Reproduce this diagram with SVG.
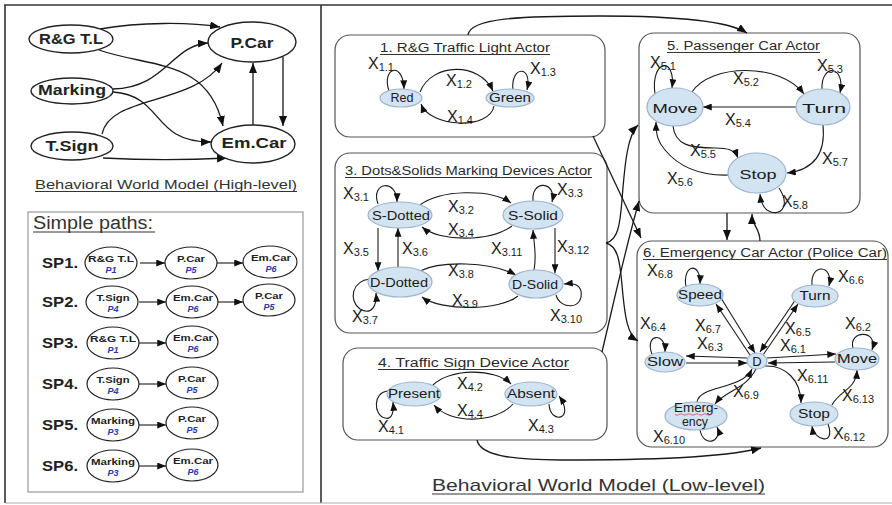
<svg xmlns="http://www.w3.org/2000/svg" width="892" height="505" viewBox="0 0 892 505">
<defs>
<style>
.frame{stroke:#333;stroke-width:1.6;fill:none}
.hn{fill:#fff;stroke:#222;stroke-width:1.4}
.ht{font-family:"Liberation Sans",Arial,sans-serif;font-weight:bold;font-size:14px;fill:#222;text-anchor:middle}
.sn{fill:#fff;stroke:#222;stroke-width:1.2}
.st{font-family:"Liberation Sans",Arial,sans-serif;font-weight:bold;font-size:9px;fill:#222;text-anchor:middle}
.sp{font-family:"Liberation Sans",Arial,sans-serif;font-weight:bold;font-style:italic;font-size:9px;fill:#2a3aa8;text-anchor:middle}
.spl{font-family:"Liberation Sans",Arial,sans-serif;font-weight:bold;font-size:15px;fill:#222}
.box{fill:#fff;stroke:#555;stroke-width:1.2}
.ttl{font-family:"Liberation Sans",Arial,sans-serif;font-size:12.5px;fill:#2a2a2a}
.ul{stroke:#333;stroke-width:1}
.ln{fill:#d2e3f2;stroke:#9db5cc;stroke-width:1.2}
.lt{font-family:"Liberation Sans",Arial,sans-serif;font-size:13px;fill:#1a1a1a;text-anchor:middle}
.e{fill:none;stroke:#1a1a1a;stroke-width:1.3;marker-end:url(#a)}
.es{fill:none;stroke:#1a1a1a;stroke-width:1.1;marker-end:url(#s)}
.x{font-family:"Liberation Sans",Arial,sans-serif;font-size:16px;fill:#1a1a1a}
.x tspan{font-size:11px}
.cap{font-family:"Liberation Sans",Arial,sans-serif;fill:#333}
</style>
<marker id="a" viewBox="0 0 10 8" refX="10" refY="4" markerWidth="10" markerHeight="8" orient="auto" markerUnits="userSpaceOnUse"><path d="M0,0L10,4L0,8z" fill="#111"/></marker>
<marker id="s" viewBox="0 0 10 8" refX="10" refY="4" markerWidth="9" markerHeight="7" orient="auto" markerUnits="userSpaceOnUse"><path d="M0,0L10,4L0,8z" fill="#111"/></marker>
</defs>

<g id="frame">
<line class="frame" x1="4" y1="5" x2="892" y2="5"/>
<line class="frame" x1="5" y1="5" x2="5" y2="503"/>
<line class="frame" x1="321" y1="5" x2="321" y2="503"/>
<line x1="5" y1="503" x2="892" y2="503" stroke="#aaa" stroke-width="1"/>
</g>

<!-- High-level model -->
<g id="hl-edges">
<path class="e" d="M100,29 C140,22 190,22 220,27"/>
<path class="e" d="M99,50 C150,68 208,58 223,126"/>
<path class="e" d="M113,89 C165,88 172,45 208,43"/>
<path class="e" d="M113,92 C165,96 150,142 211,142"/>
<path class="e" d="M102,134 C110,95 192,106 222,63"/>
<path class="e" d="M103,158 C140,160 190,160 227,158"/>
<path class="e" d="M253,125 L253,63"/>
<path class="e" d="M283,57 L283,126"/>
</g>
<g id="hl-rg"><ellipse class="hn" cx="71" cy="39" rx="42" ry="14"/><text class="ht" x="71" y="44" textLength="64" lengthAdjust="spacingAndGlyphs">R&amp;G T.L</text></g>
<g id="hl-marking"><ellipse class="hn" cx="72" cy="91" rx="41" ry="13"/><text class="ht" x="72" y="95" textLength="68" lengthAdjust="spacingAndGlyphs">Marking</text></g>
<g id="hl-tsign"><ellipse class="hn" cx="72" cy="146" rx="41" ry="14"/><text class="ht" x="72" y="151" textLength="53" lengthAdjust="spacingAndGlyphs">T.Sign</text></g>
<g id="hl-pcar"><ellipse class="hn" cx="252" cy="42" rx="44" ry="20"/><text class="ht" x="252" y="48" textLength="43" lengthAdjust="spacingAndGlyphs">P.Car</text></g>
<g id="hl-emcar"><ellipse class="hn" cx="253" cy="144" rx="42" ry="19"/><text class="ht" x="254" y="148" textLength="65" lengthAdjust="spacingAndGlyphs">Em.Car</text></g>
<text class="cap" x="35" y="189" font-size="13" textLength="262" lengthAdjust="spacingAndGlyphs">Behavioral World Model (High-level)</text>
<line class="ul" x1="35" y1="191.5" x2="297" y2="191.5"/>

<!-- Simple paths -->
<g id="simple-paths">
<rect x="28" y="212" width="275" height="280" fill="none" stroke="#999" stroke-width="1.2"/>
<text class="cap" x="33" y="229" font-size="18" fill="#1a1a1a" textLength="120" lengthAdjust="spacingAndGlyphs">Simple paths:</text>
<line class="ul" x1="33" y1="232" x2="155" y2="232" stroke="#222"/>
</g>
<g id="sp-edges">
<path class="es" d="M140,263 L165,263"/><path class="es" d="M217,263 L243,263"/>
<path class="es" d="M139,302 L166,302"/><path class="es" d="M218,302 L243,302"/>
<path class="es" d="M139,343 L166,343"/>
<path class="es" d="M139,384 L166,384"/>
<path class="es" d="M139,425 L166,425"/>
<path class="es" d="M139,466 L166,466"/>
</g>
<g id="sp1">
<text class="spl" x="42" y="268" textLength="36" lengthAdjust="spacingAndGlyphs">SP1.</text>
<ellipse class="sn" cx="111" cy="263" rx="26" ry="16"/><text class="st" x="111" y="262" textLength="46" lengthAdjust="spacingAndGlyphs">R&amp;G T.L</text><text class="sp" x="111" y="273">P1</text>
<ellipse class="sn" cx="191" cy="263" rx="26" ry="16"/><text class="st" x="191" y="262" textLength="28" lengthAdjust="spacingAndGlyphs">P.Car</text><text class="sp" x="191" y="273">P5</text>
<ellipse class="sn" cx="270" cy="262" rx="27" ry="16"/><text class="st" x="271" y="261" textLength="40" lengthAdjust="spacingAndGlyphs">Em.Car</text><text class="sp" x="271" y="272">P6</text>
</g>
<g id="sp2">
<text class="spl" x="42" y="307" textLength="36" lengthAdjust="spacingAndGlyphs">SP2.</text>
<ellipse class="sn" cx="112" cy="302" rx="26" ry="16"/><text class="st" x="113" y="301" textLength="33" lengthAdjust="spacingAndGlyphs">T.Sign</text><text class="sp" x="113" y="312">P4</text>
<ellipse class="sn" cx="192" cy="302" rx="26" ry="16"/><text class="st" x="193" y="301" textLength="40" lengthAdjust="spacingAndGlyphs">Em.Car</text><text class="sp" x="193" y="312">P6</text>
<ellipse class="sn" cx="269" cy="300" rx="26" ry="16"/><text class="st" x="269" y="299" textLength="28" lengthAdjust="spacingAndGlyphs">P.Car</text><text class="sp" x="269" y="310">P5</text>
</g>
<g id="sp3">
<text class="spl" x="42" y="348" textLength="36" lengthAdjust="spacingAndGlyphs">SP3.</text>
<ellipse class="sn" cx="113" cy="343" rx="26" ry="16"/><text class="st" x="113" y="342" textLength="46" lengthAdjust="spacingAndGlyphs">R&amp;G T.L</text><text class="sp" x="113" y="353">P1</text>
<ellipse class="sn" cx="192" cy="342" rx="26" ry="16"/><text class="st" x="193" y="341" textLength="40" lengthAdjust="spacingAndGlyphs">Em.Car</text><text class="sp" x="193" y="352">P6</text>
</g>
<g id="sp4">
<text class="spl" x="42" y="389" textLength="36" lengthAdjust="spacingAndGlyphs">SP4.</text>
<ellipse class="sn" cx="113" cy="384" rx="26" ry="16"/><text class="st" x="113" y="383" textLength="33" lengthAdjust="spacingAndGlyphs">T.Sign</text><text class="sp" x="113" y="394">P4</text>
<ellipse class="sn" cx="192" cy="383" rx="26" ry="16"/><text class="st" x="192" y="382" textLength="28" lengthAdjust="spacingAndGlyphs">P.Car</text><text class="sp" x="192" y="393">P5</text>
</g>
<g id="sp5">
<text class="spl" x="42" y="430" textLength="36" lengthAdjust="spacingAndGlyphs">SP5.</text>
<ellipse class="sn" cx="113" cy="425" rx="26" ry="16"/><text class="st" x="113" y="424" textLength="44" lengthAdjust="spacingAndGlyphs">Marking</text><text class="sp" x="113" y="435">P3</text>
<ellipse class="sn" cx="192" cy="423" rx="26" ry="16"/><text class="st" x="192" y="422" textLength="28" lengthAdjust="spacingAndGlyphs">P.Car</text><text class="sp" x="192" y="433">P5</text>
</g>
<g id="sp6">
<text class="spl" x="42" y="471" textLength="36" lengthAdjust="spacingAndGlyphs">SP6.</text>
<ellipse class="sn" cx="113" cy="466" rx="26" ry="16"/><text class="st" x="113" y="465" textLength="44" lengthAdjust="spacingAndGlyphs">Marking</text><text class="sp" x="113" y="476">P3</text>
<ellipse class="sn" cx="192" cy="465" rx="26" ry="16"/><text class="st" x="193" y="464" textLength="40" lengthAdjust="spacingAndGlyphs">Em.Car</text><text class="sp" x="193" y="475">P6</text>
</g>

<!-- Low-level model: boxes -->
<g id="box1">
<rect class="box" x="335" y="35" width="270" height="102" rx="15"/>
<text class="ttl" x="380" y="52" textLength="170" lengthAdjust="spacingAndGlyphs">1. R&amp;G Traffic Light Actor</text>
<line class="ul" x1="380" y1="54.5" x2="550" y2="54.5"/>
</g>
<g id="box3">
<rect class="box" x="335" y="153" width="272" height="180" rx="15"/>
<text class="ttl" x="345" y="175" textLength="247" lengthAdjust="spacingAndGlyphs">3. Dots&amp;Solids Marking Devices Actor</text>
<line class="ul" x1="345" y1="177.5" x2="592" y2="177.5"/>
</g>
<g id="box4">
<rect class="box" x="343" y="348" width="264" height="92" rx="15"/>
<text class="ttl" x="378" y="367" textLength="191" lengthAdjust="spacingAndGlyphs">4. Traffic Sign Device Actor</text>
<line class="ul" x1="378" y1="369.5" x2="569" y2="369.5"/>
</g>
<g id="box5">
<rect class="box" x="639" y="33" width="221" height="180" rx="15"/>
<text class="ttl" x="667" y="50" textLength="153" lengthAdjust="spacingAndGlyphs">5. Passenger Car Actor</text>
<line class="ul" x1="667" y1="52.5" x2="820" y2="52.5"/>
</g>
<g id="box6">
<rect class="box" x="637" y="241" width="251" height="206" rx="15"/>
<text class="ttl" x="643" y="257" textLength="244" lengthAdjust="spacingAndGlyphs">6. Emergency Car Actor (Police Car)</text>
<line class="ul" x1="643" y1="259.5" x2="887" y2="259.5"/>
</g>

<!-- inter-box connectors -->
<g id="box-connectors">
<path class="e" d="M468,35 C470,18 520,16 600,16 C680,16 730,22 747,33"/>
<path class="e" d="M593,136 L641,238"/>
<path class="e" d="M606,243 C618,240 620,225 622,200 C625,160 628,135 638,125"/>
<path class="e" d="M606,243 C618,246 620,262 622,285 C625,320 628,335 638,341"/>
<path class="e" d="M602,352 C612,310 625,250 639,201"/>
<path class="e" d="M477,440 C480,455 510,460 560,460 C650,460 720,458 761,448"/>
<path class="e" d="M727,213 L727,240"/>
<path class="e" d="M760,241 C760,228 752,226 752,214"/>
</g>

<!-- state transitions -->
<g id="transitions">
<path class="es" d="M389,91 C381,68 403,60 404,89"/>
<path class="es" d="M420,92 C432,62 480,62 493,91"/>
<path class="es" d="M513,90 C510,66 533,64 527,90"/>
<path class="es" d="M494,106 C490,130 430,128 421,104"/>
<path class="es" d="M378,204 C370,182 397,178 397,202"/>
<path class="es" d="M420,205 C440,190 490,188 511,203"/>
<path class="es" d="M512,226 C490,242 440,242 422,227"/>
<path class="es" d="M533,201 C531,179 557,181 552,202"/>
<path class="es" d="M378,228 L378,271"/>
<path class="es" d="M398,267 L398,228"/>
<path class="es" d="M534,270 C537,255 534,245 533,230"/>
<path class="es" d="M555,228 L555,273"/>
<path class="es" d="M420,271 C440,261 490,261 516,275"/>
<path class="es" d="M518,296 C500,311 440,311 422,297"/>
<path class="es" d="M370,279 C352,281 348,300 360,309 C372,316 377,305 376,293"/>
<path class="es" d="M556,295 C560,310 584,310 581,291 C579,284 573,283 564,284"/>
<path class="es" d="M433,385 C450,368 495,368 511,384"/>
<path class="es" d="M513,404 C495,424 450,424 434,405"/>
<path class="es" d="M388,391 C373,392 373,415 385,418 C392,420 394,412 393,402"/>
<path class="es" d="M549,404 C550,425 576,420 559,396"/>
<path class="es" d="M655,94 C650,60 676,55 672,88"/>
<path class="es" d="M692,92 C710,64 780,62 804,94"/>
<path class="es" d="M822,89 C821,63 846,65 840,93"/>
<path class="es" d="M796,107 L703,107"/>
<path class="es" d="M673,126 C675,145 690,148 715,148 C728,148 735,150 738,158"/>
<path class="es" d="M729,175 C700,176 680,168 665,150 C658,142 656,135 656,122"/>
<path class="es" d="M823,125 C826,155 812,170 787,173"/>
<path class="es" d="M779,188 C790,205 782,215 771,212 C764,210 761,203 760,194"/>
<path class="es" d="M686,287 C682,264 701,261 700,284"/>
<path class="es" d="M812,285 C810,263 834,264 829,286"/>
<path class="es" d="M721,298 L755,353"/>
<path class="es" d="M750,355 L716,304"/>
<path class="es" d="M796,299 L760,352"/>
<path class="es" d="M763,355 L798,304"/>
<path class="es" d="M652,354 C644,334 666,331 665,352"/>
<path class="es" d="M747,358 L686,356"/>
<path class="es" d="M686,363 L747,363"/>
<path class="es" d="M853,348 C848,330 879,329 872,350"/>
<path class="es" d="M767,358 L836,354"/>
<path class="es" d="M835,362 L768,363"/>
<path class="es" d="M765,366 C785,365 801,380 801,403"/>
<path class="es" d="M697,402 C700,385 742,390 752,369"/>
<path class="es" d="M756,369 C745,390 726,390 715,404"/>
<path class="es" d="M832,405 C840,390 856,390 857,370"/>
<path class="es" d="M828,424 C836,446 814,441 812,426"/>
<path class="es" d="M700,430 C704,449 723,441 717,427"/>
</g>

<!-- states -->
<g id="s-red"><ellipse class="ln" cx="401" cy="98" rx="21" ry="9"/><text class="lt" x="402" y="102" textLength="23" lengthAdjust="spacingAndGlyphs">Red</text></g>
<g id="s-green"><ellipse class="ln" cx="510" cy="98" rx="24" ry="9"/><text class="lt" x="510" y="102" textLength="42" lengthAdjust="spacingAndGlyphs">Green</text></g>
<g id="s-sdotted"><ellipse class="ln" cx="400" cy="215" rx="32" ry="13"/><text class="lt" x="401" y="220" textLength="58" lengthAdjust="spacingAndGlyphs">S-Dotted</text></g>
<g id="s-ssolid"><ellipse class="ln" cx="533" cy="215" rx="30" ry="14"/><text class="lt" x="533" y="220" textLength="50" lengthAdjust="spacingAndGlyphs">S-Solid</text></g>
<g id="s-ddotted"><ellipse class="ln" cx="400" cy="282" rx="32" ry="15"/><text class="lt" x="399" y="287" textLength="58" lengthAdjust="spacingAndGlyphs">D-Dotted</text></g>
<g id="s-dsolid"><ellipse class="ln" cx="536" cy="284" rx="27" ry="14"/><text class="lt" x="535" y="289" textLength="46" lengthAdjust="spacingAndGlyphs">D-Solid</text></g>
<g id="s-present"><ellipse class="ln" cx="414" cy="394" rx="27" ry="12"/><text class="lt" x="414" y="398" font-size="12" textLength="52" lengthAdjust="spacingAndGlyphs">Present</text></g>
<g id="s-absent"><ellipse class="ln" cx="531" cy="394" rx="26" ry="12"/><text class="lt" x="531" y="398" font-size="12" textLength="48" lengthAdjust="spacingAndGlyphs">Absent</text></g>
<g id="s-move5"><ellipse class="ln" cx="675" cy="107" rx="28" ry="19"/><text class="lt" x="675" y="113" font-size="16" textLength="45" lengthAdjust="spacingAndGlyphs">Move</text></g>
<g id="s-turn5"><ellipse class="ln" cx="823" cy="107" rx="27" ry="18"/><text class="lt" x="824" y="113" font-size="16" textLength="44" lengthAdjust="spacingAndGlyphs">Turn</text></g>
<g id="s-stop5"><ellipse class="ln" cx="757" cy="173" rx="29" ry="20"/><text class="lt" x="758" y="179" font-size="16" textLength="37" lengthAdjust="spacingAndGlyphs">Stop</text></g>
<g id="s-speed"><ellipse class="ln" cx="700" cy="295" rx="23" ry="11"/><text class="lt" x="700" y="299" textLength="44" lengthAdjust="spacingAndGlyphs">Speed</text></g>
<g id="s-turn6"><ellipse class="ln" cx="815" cy="296" rx="23" ry="11"/><text class="lt" x="815" y="300" textLength="31" lengthAdjust="spacingAndGlyphs">Turn</text></g>
<g id="s-slow"><ellipse class="ln" cx="665" cy="362" rx="20" ry="10"/><text class="lt" x="665" y="366" textLength="36" lengthAdjust="spacingAndGlyphs">Slow</text></g>
<g id="s-d"><ellipse class="ln" cx="757" cy="361" rx="10" ry="8"/><text class="lt" x="757" y="366" font-size="15">D</text></g>
<g id="s-move6"><ellipse class="ln" cx="857" cy="359" rx="22" ry="11"/><text class="lt" x="857" y="363" textLength="40" lengthAdjust="spacingAndGlyphs">Move</text></g>
<g id="s-emergency"><ellipse class="ln" cx="696" cy="416" rx="31" ry="14"/><text class="lt" x="696" y="412" font-size="10" textLength="44" lengthAdjust="spacingAndGlyphs">Emerg-</text><text class="lt" x="695" y="426" font-size="10" textLength="26" lengthAdjust="spacingAndGlyphs">ency</text><path d="M675,414.5 q2,1.5 4,0 t4,0 t4,0 t4,0 t4,0 t4,0 t4,0 t4,0 t4,0" fill="none" stroke="#d04040" stroke-width="0.7"/></g>
<g id="s-stop6"><ellipse class="ln" cx="814" cy="414" rx="24" ry="12"/><text class="lt" x="814" y="418" textLength="32" lengthAdjust="spacingAndGlyphs">Stop</text></g>

<!-- transition labels -->
<g id="labels">
<text class="x" x="368" y="69">X<tspan dy="2">1.1</tspan></text>
<text class="x" x="446" y="86">X<tspan dy="2">1.2</tspan></text>
<text class="x" x="530" y="74">X<tspan dy="2">1.3</tspan></text>
<text class="x" x="447" y="122">X<tspan dy="2">1.4</tspan></text>
<text class="x" x="343" y="199">X<tspan dy="2">3.1</tspan></text>
<text class="x" x="448" y="212">X<tspan dy="2">3.2</tspan></text>
<text class="x" x="557" y="195">X<tspan dy="2">3.3</tspan></text>
<text class="x" x="448" y="235">X<tspan dy="2">3.4</tspan></text>
<text class="x" x="343" y="254">X<tspan dy="2">3.5</tspan></text>
<text class="x" x="402" y="254">X<tspan dy="2">3.6</tspan></text>
<text class="x" x="491" y="254">X<tspan dy="2">3.11</tspan></text>
<text class="x" x="557" y="252">X<tspan dy="2">3.12</tspan></text>
<text class="x" x="448" y="276">X<tspan dy="2">3.8</tspan></text>
<text class="x" x="452" y="306">X<tspan dy="2">3.9</tspan></text>
<text class="x" x="352" y="322">X<tspan dy="2">3.7</tspan></text>
<text class="x" x="550" y="321">X<tspan dy="2">3.10</tspan></text>
<text class="x" x="457" y="389">X<tspan dy="2">4.2</tspan></text>
<text class="x" x="457" y="416">X<tspan dy="2">4.4</tspan></text>
<text class="x" x="378" y="432">X<tspan dy="2">4.1</tspan></text>
<text class="x" x="528" y="431">X<tspan dy="2">4.3</tspan></text>
<text class="x" x="650" y="68">X<tspan dy="2">5.1</tspan></text>
<text class="x" x="733" y="84">X<tspan dy="2">5.2</tspan></text>
<text class="x" x="817" y="71">X<tspan dy="2">5.3</tspan></text>
<text class="x" x="725" y="125">X<tspan dy="2">5.4</tspan></text>
<text class="x" x="690" y="156">X<tspan dy="2">5.5</tspan></text>
<text class="x" x="667" y="184">X<tspan dy="2">5.6</tspan></text>
<text class="x" x="822" y="164">X<tspan dy="2">5.7</tspan></text>
<text class="x" x="782" y="207">X<tspan dy="2">5.8</tspan></text>
<text class="x" x="647" y="276">X<tspan dy="2">6.8</tspan></text>
<text class="x" x="838" y="282">X<tspan dy="2">6.6</tspan></text>
<text class="x" x="695" y="331">X<tspan dy="2">6.7</tspan></text>
<text class="x" x="785" y="334">X<tspan dy="2">6.5</tspan></text>
<text class="x" x="640" y="329">X<tspan dy="2">6.4</tspan></text>
<text class="x" x="697" y="349">X<tspan dy="2">6.3</tspan></text>
<text class="x" x="845" y="329">X<tspan dy="2">6.2</tspan></text>
<text class="x" x="780" y="351">X<tspan dy="2">6.1</tspan></text>
<text class="x" x="797" y="381">X<tspan dy="2">6.11</tspan></text>
<text class="x" x="733" y="397">X<tspan dy="2">6.9</tspan></text>
<text class="x" x="842" y="401">X<tspan dy="2">6.13</tspan></text>
<text class="x" x="833" y="439">X<tspan dy="2">6.12</tspan></text>
<text class="x" x="653" y="442">X<tspan dy="2">6.10</tspan></text>
</g>

<text class="cap" x="432" y="491" font-size="17" fill="#222" textLength="333" lengthAdjust="spacingAndGlyphs">Behavioral World Model (Low-level)</text>
<line class="ul" x1="432" y1="494" x2="765" y2="494"/>
</svg>
